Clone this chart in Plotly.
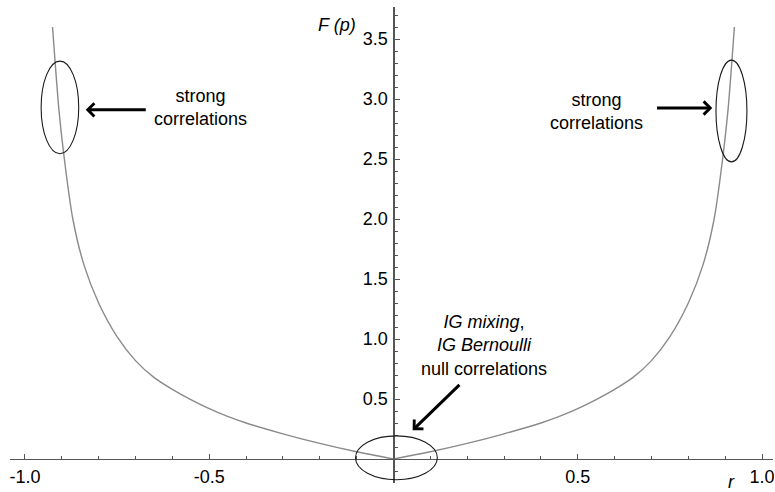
import plotly.graph_objects as go

# ---- data ----
r_vals = [-0.925, -0.908, -0.895, -0.87, -0.84, -0.8, -0.75, -0.7, -0.65, -0.6, -0.55, -0.5, -0.45, -0.4,
          -0.3, -0.2, -0.1,
          0.0,
          0.1, 0.2, 0.3,
          0.4, 0.45, 0.5, 0.55, 0.6, 0.65, 0.7, 0.75, 0.8, 0.84, 0.87, 0.895, 0.908, 0.925]
F_vals = [3.60, 2.92, 2.55, 2.00, 1.62, 1.30, 1.02, 0.82, 0.68, 0.58, 0.495, 0.42, 0.355, 0.30,
          0.21, 0.13, 0.06,
          0.0,
          0.06, 0.13, 0.21,
          0.30, 0.355, 0.42, 0.495, 0.58, 0.68, 0.82, 1.02, 1.30, 1.62, 2.00, 2.55, 2.92, 3.60]

x_tickvals = [-1.0, -0.5, 0.5, 1.0]
x_ticktext = ["-1.0", "-0.5", "0.5", "1.0"]
y_tickvals = [0.5, 1.0, 1.5, 2.0, 2.5, 3.0, 3.5]
y_ticktext = ["0.5", "1.0", "1.5", "2.0", "2.5", "3.0", "3.5"]

# ellipses: (center r, center F, half-width, half-height)
ellipses = [(-0.905, 2.93, 0.051, 0.386),
            (0.917, 2.90, 0.042, 0.424),
            (0.008, 0.01, 0.111, 0.183)]

# arrows: (tip r, tip F, tail r, tail F)
arrows = [(-0.835, 2.91, -0.668, 2.91),
          (0.865, 2.925, 0.711, 2.925),
          (0.052, 0.24, 0.183, 0.63)]

# text labels: (r, F, text)
labels = [(-0.524, 2.93, "strong<br>correlations"),
          (0.551, 2.90, "strong<br>correlations"),
          (0.246, 0.95, "<i>IG mixing</i>,<br><i>IG Bernoulli</i><br>null correlations")]

FONT = "Liberation Sans, Arial, Helvetica, sans-serif"
W, H = 775, 492

fig = go.Figure()
left_r = [r for r in r_vals if r <= 0]
left_F = [f for r, f in zip(r_vals, F_vals) if r <= 0]
right_r = [r for r in r_vals if r >= 0]
right_F = [f for r, f in zip(r_vals, F_vals) if r >= 0]
for xs, ys in [(left_r, left_F), (right_r, right_F)]:
    fig.add_trace(go.Scatter(x=xs, y=ys, mode="lines",
                             line=dict(color="#8a8a8a", width=1.4, shape="spline", smoothing=0.8),
                             showlegend=False, hoverinfo="skip"))

for cx, cy, rx, ry in ellipses:
    fig.add_shape(type="circle", xref="x", yref="y",
                  x0=cx - rx, x1=cx + rx, y0=cy - ry, y1=cy + ry,
                  line=dict(color="#1a1a1a", width=1.1))

for tx, ty, sx, sy in arrows:
    fig.add_annotation(x=tx, y=ty, ax=sx, ay=sy, xref="x", yref="y", axref="x", ayref="y",
                       text="", showarrow=True, arrowhead=4, arrowsize=0.85, arrowwidth=3,
                       arrowcolor="#000000")

for lx, ly, txt in labels:
    fig.add_annotation(x=lx, y=ly, xref="x", yref="y", text=txt, showarrow=False,
                       font=dict(family=FONT, size=18, color="#000000"), align="center")

# axis titles
fig.add_annotation(x=358 / W, y=1 - 25 / H, xref="paper", yref="paper", text="<i>F (p)</i>",
                   showarrow=False, xanchor="right", yanchor="middle",
                   font=dict(family=FONT, size=18, color="#000000"))
fig.add_annotation(x=733 / W, y=1 - 470 / H, xref="paper", yref="paper", text="<i>r</i>",
                   showarrow=False, xanchor="center", yanchor="top",
                   font=dict(family=FONT, size=18, color="#000000"))

# pixel geometry
px_per_r = 370.0
r0_px = 394.0
px_per_F = 120.0
F0_px = 459.0
x_left_px, x_right_px = 9.0, 775.0
y_top_px, y_bot_px = 7.0, 483.0

fig.update_layout(
    width=W, height=H,
    margin=dict(l=0, r=0, t=0, b=0),
    paper_bgcolor="white", plot_bgcolor="rgba(0,0,0,0)",
    showlegend=False,
    xaxis=dict(
        domain=[x_left_px / W, x_right_px / W],
        range=[(x_left_px - r0_px) / px_per_r, (x_right_px - r0_px) / px_per_r],
        anchor="free", position=1 - F0_px / H,
        showgrid=False, zeroline=False, showline=True, linecolor="#555555", linewidth=1.2,
        tickvals=x_tickvals, ticktext=x_ticktext, ticks="inside", ticklen=5, tickwidth=1,
        tickcolor="#555555",
        minor=dict(dtick=0.1, tick0=0, ticks="inside", ticklen=3, tickcolor="#555555", showgrid=False),
        tickfont=dict(family=FONT, size=18, color="#000000"),
        ticklabelstandoff=1, ticklabeloverflow="allow",
    ),
    yaxis=dict(
        domain=[1 - y_bot_px / H, 1 - y_top_px / H],
        range=[(F0_px - y_bot_px) / px_per_F, (F0_px - y_top_px) / px_per_F],
        anchor="free", position=r0_px / W,
        showgrid=False, zeroline=False, showline=True, linecolor="#555555", linewidth=1.2,
        tickvals=y_tickvals, ticktext=y_ticktext, ticks="inside", ticklen=5, tickwidth=1,
        tickcolor="#555555",
        minor=dict(dtick=0.1, tick0=0, ticks="inside", ticklen=3, tickcolor="#555555", showgrid=False),
        tickfont=dict(family=FONT, size=18, color="#000000"),
        ticklabelstandoff=2, ticklabeloverflow="allow",
    ),
)

fig.write_html("out.html",
               config={"displayModeBar": False, "staticPlot": True},
               post_script="document.body.style.margin='0';document.body.style.padding='0';"
                           "document.documentElement.style.overflow='hidden';")
